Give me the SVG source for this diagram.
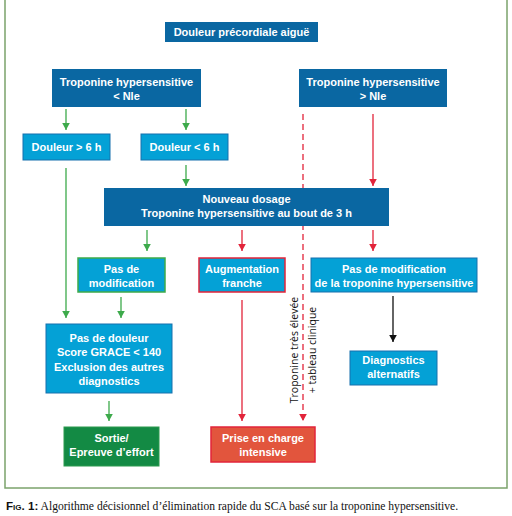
<svg xmlns="http://www.w3.org/2000/svg" width="512" height="516" viewBox="0 0 512 516">
<defs>
<style>
.t{font-family:"Liberation Sans","Open Sans",sans-serif;font-weight:bold;font-size:11px;fill:#fff;text-anchor:middle}
.dk{fill:#0a67a2}
.lt{fill:#04a1d6;stroke:#1670ad;stroke-width:1}
.g{stroke:#3daa4b;stroke-width:1.3;fill:none}
.r{stroke:#e2243a;stroke-width:1.3;fill:none}
.k{stroke:#111;stroke-width:1.3;fill:none}
</style>
<marker id="ag" markerUnits="userSpaceOnUse" markerWidth="10" markerHeight="10" refX="7" refY="5" orient="auto" viewBox="0 0 10 10"><path d="M0,1.2 L7,5 L0,8.8 Z" fill="#3daa4b"/></marker>
<marker id="ar" markerUnits="userSpaceOnUse" markerWidth="10" markerHeight="10" refX="7" refY="5" orient="auto" viewBox="0 0 10 10"><path d="M0,1.2 L7,5 L0,8.8 Z" fill="#e2243a"/></marker>
<marker id="ak" markerUnits="userSpaceOnUse" markerWidth="10" markerHeight="10" refX="7" refY="5" orient="auto" viewBox="0 0 10 10"><path d="M0,1.2 L7,5 L0,8.8 Z" fill="#111"/></marker>
</defs>
<rect x="0" y="0" width="512" height="516" fill="#fff"/>
<rect x="5" y="-2" width="502" height="490" fill="none" stroke="#7ba36b" stroke-width="1.5"/>

<g id="connectors">
<line class="g" x1="66" y1="109" x2="66" y2="130" marker-end="url(#ag)"/>
<line class="g" x1="186" y1="109" x2="186" y2="130" marker-end="url(#ag)"/>
<line class="r" x1="303" y1="114" x2="303" y2="421" stroke-dasharray="6,4" marker-end="url(#ar)"/>
<line class="r" x1="373" y1="114" x2="373" y2="186" marker-end="url(#ar)"/>
<line class="g" x1="66" y1="168" x2="66" y2="318" marker-end="url(#ag)"/>
<line class="g" x1="186" y1="165" x2="186" y2="186" marker-end="url(#ag)"/>
<line class="g" x1="147" y1="230" x2="147" y2="251" marker-end="url(#ag)"/>
<line class="r" x1="242" y1="230" x2="242" y2="251" marker-end="url(#ar)"/>
<line class="r" x1="373" y1="230" x2="373" y2="251" marker-end="url(#ar)"/>
<line class="g" x1="121" y1="297" x2="121" y2="318" marker-end="url(#ag)"/>
<line class="r" x1="242" y1="300" x2="242" y2="421" marker-end="url(#ar)"/>
<line class="k" x1="393" y1="296" x2="393" y2="342" marker-end="url(#ak)"/>
<line class="g" x1="109" y1="401" x2="109" y2="421" marker-end="url(#ag)"/>
</g>

<g id="n-title"><rect class="dk" x="165" y="22" width="153" height="20"/><text class="t" x="241.5" y="36">Douleur précordiale aiguë</text></g>
<g id="n-trop-low"><rect class="dk" x="52" y="69" width="149" height="38"/><text class="t" x="126.5" y="86">Troponine hypersensitive</text><text class="t" x="126.5" y="100">&lt; Nle</text></g>
<g id="n-trop-high"><rect class="dk" x="299" y="69" width="148" height="38"/><text class="t" x="373" y="86">Troponine hypersensitive</text><text class="t" x="373" y="100">&gt; Nle</text></g>
<g id="n-d6p"><rect class="lt" x="23" y="134" width="87" height="26"/><text class="t" x="66.5" y="151">Douleur &gt; 6 h</text></g>
<g id="n-d6m"><rect class="lt" x="141" y="134" width="87" height="26"/><text class="t" x="184.5" y="151">Douleur &lt; 6 h</text></g>
<g id="n-nouveau"><rect class="dk" x="104" y="188" width="285" height="38"/><text class="t" x="246.5" y="203">Nouveau dosage</text><text class="t" x="246.5" y="217">Troponine hypersensitive au bout de 3 h</text></g>
<g id="n-pasmod"><rect x="78" y="258" width="87" height="34" fill="#04a1d6" stroke="#3daa4b" stroke-width="1.5"/><text class="t" x="121.5" y="272.5">Pas de</text><text class="t" x="121.5" y="286.5">modification</text></g>
<g id="n-augm"><rect x="199" y="258" width="86" height="34" fill="#04a1d6" stroke="#e2243a" stroke-width="1.5"/><text class="t" x="242" y="272.5">Augmentation</text><text class="t" x="242" y="286.5">franche</text></g>
<g id="n-pasmod2"><rect class="lt" x="311" y="258" width="166" height="34"/><text class="t" x="394" y="272.5">Pas de modification</text><text class="t" x="394" y="286.5">de la troponine hypersensitive</text></g>
<g id="n-pasdouleur"><rect class="lt" x="46" y="324" width="126" height="69"/><text class="t" x="109" y="341.5">Pas de douleur</text><text class="t" x="109" y="356">Score GRACE &lt; 140</text><text class="t" x="109" y="370.5">Exclusion des autres</text><text class="t" x="109" y="385">diagnostics</text></g>
<g id="n-diag"><rect class="lt" x="350" y="351" width="87" height="34"/><text class="t" x="393.5" y="363.5">Diagnostics</text><text class="t" x="393.5" y="377.5">alternatifs</text></g>
<g id="n-sortie"><rect x="64" y="427" width="95" height="39" fill="#138a44" stroke="#2d9a4f" stroke-width="1"/><text class="t" x="111.5" y="441.5">Sortie/</text><text class="t" x="111.5" y="456">Epreuve d’effort</text></g>
<g id="n-prise"><rect x="211" y="427" width="104" height="35" fill="#e2553d" stroke="#e2243a" stroke-width="1.5"/><text class="t" x="263" y="441.5">Prise en charge</text><text class="t" x="263" y="455.5">intensive</text></g>

<g id="vlabel" font-family="'Open Sans','Liberation Sans',sans-serif" font-size="10.5" fill="#111" text-anchor="middle">
<text transform="translate(297.5,350) rotate(-90)">Troponine très élevée</text>
<text transform="translate(315.5,350) rotate(-90)">+ tableau clinique</text>
</g>

<text x="6" y="510" font-family="'Liberation Serif',serif" font-size="11.6" fill="#111"><tspan font-weight="bold" font-variant="small-caps" font-family="'Liberation Sans',sans-serif">Fig. 1:</tspan> Algorithme décisionnel d’élimination rapide du SCA basé sur la troponine hypersensitive.</text>
</svg>
